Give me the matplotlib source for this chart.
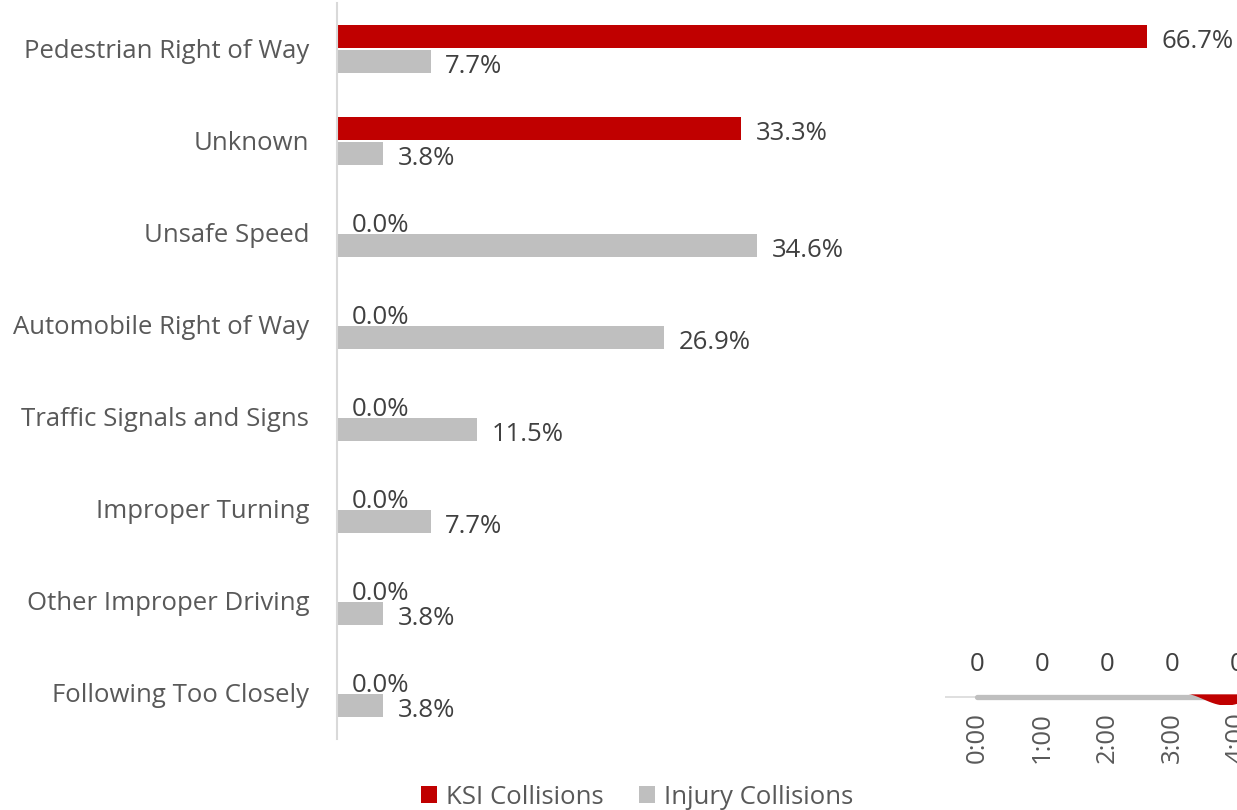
import matplotlib
matplotlib.use("Agg")
import matplotlib.pyplot as plt
import numpy as np

categories = ["Pedestrian Right of Way", "Unknown", "Unsafe Speed", "Automobile Right of Way",
              "Traffic Signals and Signs", "Improper Turning", "Other Improper Driving",
              "Following Too Closely"]
ksi = [66.7, 33.3, 0.0, 0.0, 0.0, 0.0, 0.0, 0.0]
injury = [7.7, 3.8, 34.6, 26.9, 11.5, 7.7, 3.8, 3.8]

hours = ["0:00", "1:00", "2:00", "3:00", "4:00"]
hour_values = [0, 0, 0, 0, 0]

RED = "#c00000"
GRAY = "#bfbfbf"
plt.rcParams['font.family'] = ['Open Sans', 'DejaVu Sans']

fig = plt.figure(figsize=(12.37, 8.10), dpi=100)
ax = fig.add_axes([337/1237, 1-739/810, 1-337/1237, 736/810])

y = np.arange(len(categories))
h = 0.25
ax.barh(y - h/2 - 0.01, ksi, height=h, color=RED, label="KSI Collisions")
ax.barh(y + h/2 + 0.01, injury, height=h, color=GRAY, label="Injury Collisions")
ax.set_ylim(len(categories) - 0.5, -0.5)
ax.set_xlim(0, 74.1)
fs = 18.5
for i in range(len(categories)):
    ax.text(ksi[i] + 1.2, y[i] - h/2 + 0.04, f"{ksi[i]:.1f}%", va="center", ha="left",
            fontsize=fs, color="#404040")
    ax.text(injury[i] + 1.2, y[i] + h/2 + 0.06, f"{injury[i]:.1f}%", va="center", ha="left",
            fontsize=fs, color="#404040")
ax.set_yticks(y)
ax.set_yticklabels(categories, fontsize=fs, color="#595959")
ax.tick_params(axis="y", length=0, pad=20)
ax.set_xticks([])
for s in ["top", "right", "bottom"]:
    ax.spines[s].set_visible(False)
ax.spines["left"].set_color("#d9d9d9")
ax.spines["left"].set_linewidth(1.5)

fig.legend(loc="center", bbox_to_anchor=(637/1237, 1-797/810), ncol=2, frameon=False,
           fontsize=fs, handlelength=0.6, handleheight=0.6, handletextpad=0.35,
           columnspacing=1.4, labelcolor="#595959")

# overlapping fragment of another chart
ax2 = fig.add_axes([944.5/1237, 1-704/810, 325/1237, 14/810])
hx = np.arange(len(hours))
ax2.plot([-0.5, 0], [0, 0], color="#d9d9d9", lw=1.2)
ax2.plot(hx, hour_values, color=GRAY, lw=3.8, solid_capstyle="round", zorder=2)
xs = np.linspace(3.25, 4.4, 40)
ax2.fill_between(xs, 0.45, 0.45 - 1.6 * np.sin(np.pi * (xs - 3.25) / 1.15) ** 1.5,
                 color=RED, lw=0, zorder=3)
ax2.set_xlim(-0.5, 4.5)
ax2.set_ylim(-1, 1)
ax2.axis("off")
for i, v in enumerate(hour_values):
    ax2.text(hx[i], 4.6, str(v), ha="center", va="center", fontsize=fs, color="#404040")
for i, lab in enumerate(hours):
    ax2.text(hx[i], -2.2, lab, rotation=90, ha="center", va="top", fontsize=fs, color="#595959")

fig.savefig("out.png", dpi=100)
